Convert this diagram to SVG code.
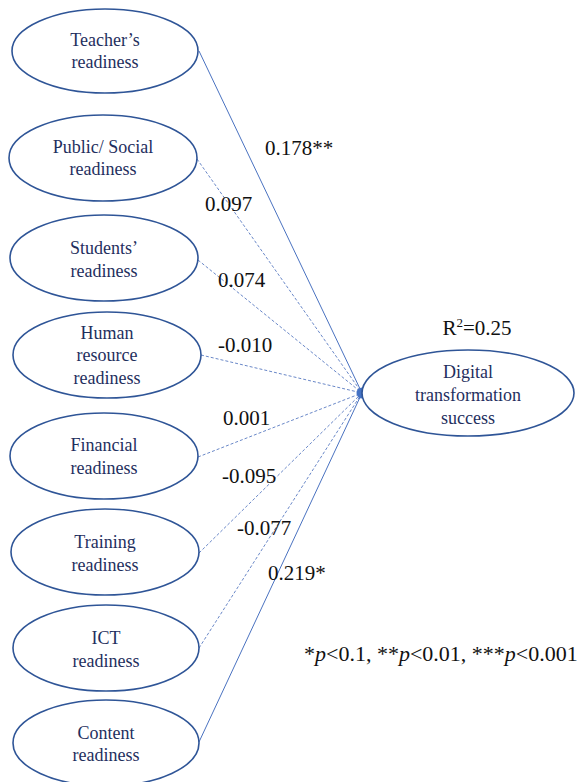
<svg xmlns="http://www.w3.org/2000/svg" width="585" height="782" viewBox="0 0 585 782">
  <defs>
    <style>
      .node ellipse { fill: #ffffff; stroke: #2f5597; stroke-width: 1.6; }
      .path { stroke: #4a72c0; stroke-width: 1; fill: none; }
      .ns { stroke-dasharray: 3 2; stroke: #6a88c8; }
    </style>
  </defs>

  <!-- paths from each readiness factor to the outcome -->
  <g id="connectors">
    <line class="path" x1="199" y1="51" x2="362" y2="393"/>
    <line class="path ns" x1="197" y1="159" x2="362" y2="393"/>
    <line class="path ns" x1="198" y1="260" x2="362" y2="393"/>
    <line class="path ns" x1="201" y1="355" x2="362" y2="393"/>
    <line class="path ns" x1="198" y1="457" x2="362" y2="393"/>
    <line class="path ns" x1="199" y1="553" x2="362" y2="393"/>
    <line class="path ns" x1="199" y1="648" x2="362" y2="393"/>
    <line class="path" x1="199" y1="742" x2="362" y2="393"/>
    <circle cx="362" cy="393" r="5.5" fill="#4472c4"/>
  </g>

  <!-- path coefficients -->
  <g id="coefficients" font-family="Liberation Serif" font-size="21" fill="#111111">
    <text x="265" y="155">0.178**</text>
    <text x="205" y="211">0.097</text>
    <text x="218" y="287">0.074</text>
    <text x="218" y="352">-0.010</text>
    <text x="223" y="425">0.001</text>
    <text x="222" y="483">-0.095</text>
    <text x="237" y="535">-0.077</text>
    <text x="268" y="580">0.219*</text>
  </g>

  <g id="teacher" class="node" font-family="Liberation Serif" font-size="18" fill="#1f2f5e" text-anchor="middle">
    <ellipse cx="105" cy="51" rx="93" ry="42"/>
    <text x="105" y="46">Teacher’s</text>
    <text x="105" y="68">readiness</text>
  </g>
  <g id="public-social" class="node" font-family="Liberation Serif" font-size="18" fill="#1f2f5e" text-anchor="middle">
    <ellipse cx="103" cy="158" rx="94" ry="43"/>
    <text x="103" y="153">Public/ Social</text>
    <text x="103" y="175">readiness</text>
  </g>
  <g id="students" class="node" font-family="Liberation Serif" font-size="18" fill="#1f2f5e" text-anchor="middle">
    <ellipse cx="104" cy="258" rx="94" ry="43"/>
    <text x="104" y="254">Students’</text>
    <text x="104" y="277">readiness</text>
  </g>
  <g id="human-resource" class="node" font-family="Liberation Serif" font-size="18" fill="#1f2f5e" text-anchor="middle">
    <ellipse cx="107" cy="355" rx="94" ry="43"/>
    <text x="107" y="339">Human</text>
    <text x="107" y="361">resource</text>
    <text x="107" y="384">readiness</text>
  </g>
  <g id="financial" class="node" font-family="Liberation Serif" font-size="18" fill="#1f2f5e" text-anchor="middle">
    <ellipse cx="104" cy="456" rx="94" ry="43"/>
    <text x="104" y="451">Financial</text>
    <text x="104" y="474">readiness</text>
  </g>
  <g id="training" class="node" font-family="Liberation Serif" font-size="18" fill="#1f2f5e" text-anchor="middle">
    <ellipse cx="105" cy="552" rx="94" ry="43"/>
    <text x="105" y="548">Training</text>
    <text x="105" y="571">readiness</text>
  </g>
  <g id="ict" class="node" font-family="Liberation Serif" font-size="18" fill="#1f2f5e" text-anchor="middle">
    <ellipse cx="106" cy="648" rx="93" ry="43"/>
    <text x="106" y="644">ICT</text>
    <text x="106" y="667">readiness</text>
  </g>
  <g id="content" class="node" font-family="Liberation Serif" font-size="18" fill="#1f2f5e" text-anchor="middle">
    <ellipse cx="106" cy="743" rx="93" ry="43"/>
    <text x="106" y="739">Content</text>
    <text x="106" y="761">readiness</text>
  </g>

  <g id="digital-transformation" class="node" font-family="Liberation Serif" font-size="18" fill="#1f2f5e" text-anchor="middle">
    <ellipse cx="468" cy="393" rx="106" ry="43"/>
    <text x="468" y="378">Digital</text>
    <text x="468" y="401">transformation</text>
    <text x="468" y="424">success</text>
  </g>

  <text x="477" y="335" text-anchor="middle" font-family="Liberation Serif" font-size="21" fill="#111111">R<tspan font-size="13" dy="-8">2</tspan><tspan dy="8">=0.25</tspan></text>

  <text x="304" y="661" font-family="Liberation Serif" font-size="22" fill="#111111">*<tspan font-style="italic">p</tspan>&lt;0.1, **<tspan font-style="italic">p</tspan>&lt;0.01, ***<tspan font-style="italic">p</tspan>&lt;0.001</text>
</svg>
